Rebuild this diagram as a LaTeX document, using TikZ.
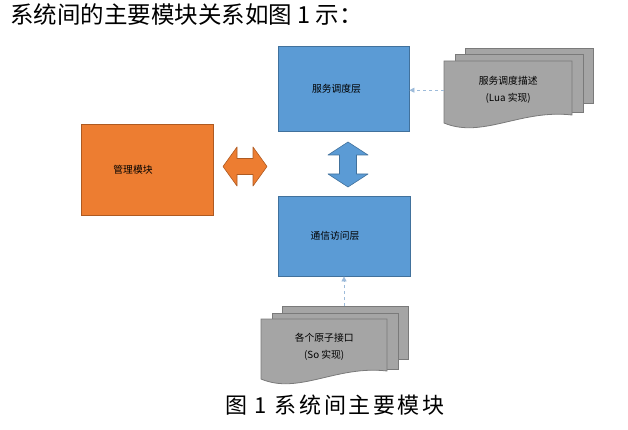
\documentclass[tikz,border=0pt]{standalone}
\usepackage{fontspec}
\setmainfont{Noto Sans CJK SC}
\newfontfamily\capfont[LetterSpace=12]{Noto Sans CJK SC}
\usepackage{tikz}
\usetikzlibrary{arrows.meta}
\definecolor{lblue}{HTML}{5B9BD5}
\definecolor{dblue}{HTML}{41719C}
\definecolor{lorange}{HTML}{ED7D31}
\definecolor{dorange}{HTML}{AE5A21}
\definecolor{lgray}{HTML}{A5A5A5}
\definecolor{dgray}{HTML}{7A7A7A}
\definecolor{linkblue}{HTML}{9DBBDA}
\tikzstyle{boxtext}=[font=\fontsize{9.8}{12}\selectfont]
\tikzstyle{layer}=[draw=dblue,fill=lblue,line width=.8pt,label distance=0pt]
\tikzstyle{module}=[draw=dorange,fill=lorange,line width=.8pt,label distance=0pt]
\tikzstyle{sheet}=[draw=dgray,fill=lgray,line width=.8pt]
\tikzstyle{doctext}=[align=center,inner sep=0pt,font=\fontsize{9.8}{17}\selectfont]
\tikzstyle{link}=[draw=linkblue,dashed,line width=.8pt,-{Triangle[length=5pt,width=5pt]}]
\tikzstyle{bigarrow}=[line width=.6pt,line join=round]
% #1 name, #2 #3 front top left, #4 width, #5 height, #6 text
\newcommand\docstack[6]{%
  \node[sheet,anchor=north west,inner sep=0pt,minimum width=#4,minimum height=#5-7] (#1-b) at (#2+21,#3-13) {};
  \node[sheet,anchor=north west,inner sep=0pt,minimum width=#4,minimum height=#5-4] (#1-m) at (#2+10.5,#3-6.5) {};
  \filldraw[sheet] (#2,#3) -- (#2+#4,#3) -- (#2+#4,#3+#5-8)
    .. controls (#2+0.6*#4,#3+#5-14) and (#2+0.3*#4,#3+#5+16) .. (#2,#3+#5) -- cycle;
  \node[doctext,anchor=north west,minimum width=#4,minimum height=#5-4] (#1) at (#2,#3) {#6};
}
\begin{document}
\begin{tikzpicture}[x=1pt,y=-1pt]
	\useasboundingbox (0,0) rectangle (628,430);
	\node[anchor=west,inner sep=0pt,font=\fontsize{23.5}{26}\selectfont] (title) at (10,15) {系统间的主要模块关系如图 1 示：};
	\node[layer,minimum width=131,minimum height=85,label={[boxtext,xshift=-7]center:服务调度层}] (sched) at (343.5,88.5) {};
	\node[layer,minimum width=132,minimum height=80,label={[boxtext,xshift=-9]center:通信访问层}] (comm) at (344,236) {};
	\node[module,minimum width=132,minimum height=91,label={[boxtext,xshift=-14]center:管理模块}] (mgmt) at (147,169.5) {};
	\docstack{desc}{444}{61}{128}{62}{服务调度描述\\(Lua 实现)}
	\docstack{atom}{261}{319}{126}{60}{各个原子接口\\(So 实现)}
	\draw[link] (desc.west) -- (desc.west -| sched.east);
	\draw[link] (atom-b.north -| comm.south) -- (comm.south);
	\filldraw[bigarrow,draw=dorange,fill=lorange] (223,166.5) -- (237,147) -- (237,158.5) -- (253,158.5) -- (253,147) -- (267,166.5)
	  -- (253,186) -- (253,174.5) -- (237,174.5) -- (237,186) -- cycle;
	\filldraw[bigarrow,draw=dblue,fill=lblue] (348,142) -- (368,155) -- (356.5,155) -- (356.5,174) -- (368,174) -- (348,187)
	  -- (328,174) -- (339.5,174) -- (339.5,155) -- (328,155) -- cycle;
	\node[font=\fontsize{22}{26}\capfont] (caption) at (335,405) {图 1 系统间主要模块};
\end{tikzpicture}
\end{document}
